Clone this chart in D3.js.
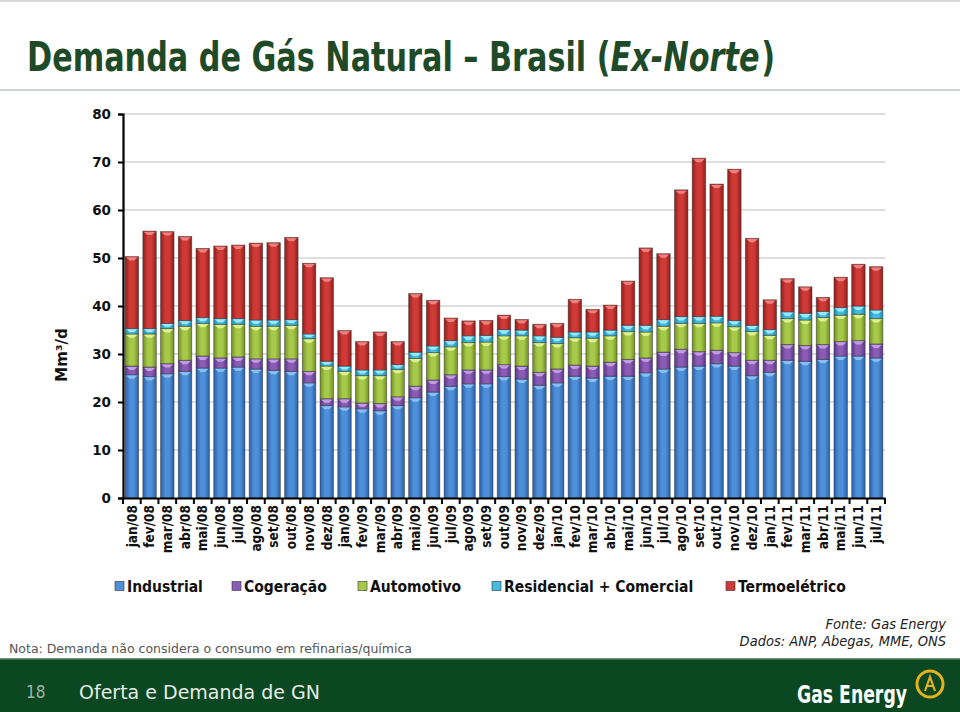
<!DOCTYPE html>
<html><head><meta charset="utf-8">
<script src="https://cdn.jsdelivr.net/npm/d3@7/dist/d3.min.js"></script>
<style>body{margin:0;background:#fff;} svg{display:block;}</style>
</head><body><svg id="c" width="960" height="712"></svg>
<script>
const months = ["jan/08","fev/08","mar/08","abr/08","mai/08","jun/08","jul/08","ago/08","set/08","out/08","nov/08","dez/08",
"jan/09","fev/09","mar/09","abr/09","mai/09","jun/09","jul/09","ago/09","set/09","out/09","nov/09","dez/09",
"jan/10","fev/10","mar/10","abr/10","mai/10","jun/10","jul/10","ago/10","set/10","out/10","nov/10","dez/10",
"jan/11","fev/11","mar/11","abr/11","mai/11","jun/11","jul/11"];
const industrial   = [25.7,25.3,25.9,26.4,27.1,27.1,27.3,26.9,26.6,26.4,24.0,19.3, 19.0,18.6,18.2,19.3,20.9,22.1,23.3,23.8,23.8,25.3,24.8,23.5, 24.0,25.4,25.0,25.4,25.4,26.1,26.9,27.3,27.5,28.0,27.5,25.5, 26.2,28.7,28.5,28.9,29.6,29.6,29.2];
const cogeracao    = [1.8,2.0,2.1,2.3,2.5,2.1,2.1,2.1,2.4,2.6,2.4,1.4, 1.7,1.2,1.5,1.8,2.4,2.5,2.4,2.9,2.9,2.5,2.7,2.7, 2.9,2.3,2.5,2.9,3.5,3.1,3.5,3.7,3.0,2.8,2.8,3.2, 2.5,3.3,3.3,3.1,3.0,3.2,2.9];
const automotivo   = [6.7,6.9,7.3,7.1,6.8,7.0,6.8,6.8,6.8,7.0,6.8,6.8, 5.7,5.7,5.8,5.7,5.8,5.7,5.8,5.7,5.8,6.0,6.3,6.2, 5.3,5.7,5.8,5.5,5.8,5.4,5.4,5.4,5.9,5.7,5.4,6.0, 5.2,5.4,5.3,5.6,5.5,5.5,5.3];
const residencial  = [1.1,1.1,1.1,1.2,1.2,1.2,1.2,1.3,1.3,1.2,1.0,1.0, 1.1,1.2,1.2,1.0,1.3,1.4,1.3,1.4,1.4,1.3,1.2,1.4, 1.3,1.2,1.3,1.2,1.3,1.4,1.4,1.4,1.4,1.4,1.3,1.3, 1.2,1.4,1.4,1.3,1.6,1.7,1.8];
const termoeletrico= [15.0,20.3,19.1,17.5,14.4,15.1,15.3,16.0,16.1,17.1,14.7,17.4, 7.4,5.9,7.9,4.8,12.2,9.5,4.7,3.1,3.1,3.0,2.2,2.4, 2.9,6.8,4.7,5.2,9.2,16.1,13.7,26.4,33.0,27.5,31.5,18.1, 6.2,6.9,5.5,2.9,6.3,8.7,9.0];
const seriesNames  = ["Industrial","Cogeração","Automotivo","Residencial + Comercial","Termoelétrico"];
const seriesKeys   = ["ind","cog","aut","res","ter"];
const yTicks       = [0,10,20,30,40,50,60,70,80];

const colors = {
  ind:{mid:"#4d8fd8", edge:"#2a5fa6", hl:"#8fc3f4"},
  cog:{mid:"#8a5cb5", edge:"#5b3685", hl:"#c7a3e6"},
  aut:{mid:"#a7c94a", edge:"#6f8f23", hl:"#e3f59a"},
  res:{mid:"#45bde0", edge:"#1f8aab", hl:"#a6ecff"},
  ter:{mid:"#cf3a36", edge:"#8e1e1c", hl:"#f08a86"}
};

const data = months.map((m,i)=>({m, ind:industrial[i], cog:cogeracao[i], aut:automotivo[i], res:residencial[i], ter:termoeletrico[i]}));
const stacked = d3.stack().keys(seriesKeys)(data);

const svg = d3.select("#c");
const defs = svg.append("defs");
seriesKeys.forEach(k=>{
  const g = defs.append("linearGradient").attr("id","g_"+k).attr("x1","0").attr("x2","1").attr("y1","0").attr("y2","0");
  g.append("stop").attr("offset","0%").attr("stop-color",colors[k].edge);
  g.append("stop").attr("offset","35%").attr("stop-color",colors[k].mid);
  g.append("stop").attr("offset","65%").attr("stop-color",colors[k].mid);
  g.append("stop").attr("offset","100%").attr("stop-color",colors[k].edge);
});

// slide chrome
svg.append("rect").attr("x",0).attr("y",0).attr("width",960).attr("height",712).attr("fill","#fff");
svg.append("rect").attr("x",0).attr("y",0).attr("width",960).attr("height",2).attr("fill","#d8d8d8");
svg.append("rect").attr("x",0).attr("y",89).attr("width",960).attr("height",2).attr("fill","#cfd3cf");

// title as separate pieces, scaled to the reference width
const tg = svg.append("g");
const titleParts = [["Demanda de Gás Natural – Brasil (","normal"],["Ex-Norte","italic"],[")","normal"]];
let cx = 0;
titleParts.forEach(([t,st])=>{
  const el = tg.append("text").attr("x",cx).attr("y",0)
    .attr("font-family","'DejaVu Sans Condensed','DejaVu Sans',sans-serif").attr("font-weight","bold")
    .attr("font-style",st).attr("font-size",40).attr("fill","#1f4a27").text(t);
  cx += el.node().getComputedTextLength() + (st==="italic"?2:0);
});
tg.attr("transform",`translate(27,71) scale(${748/cx},1)`);

// scales
const x = d3.scaleBand().domain(months).range([123,885]).paddingInner(0.24).paddingOuter(0.12);
const y = d3.scaleLinear().domain([0,80]).range([498,114]);

// gridlines
svg.append("g").selectAll("line").data(yTicks.filter(t=>t>0)).join("line")
  .attr("x1",123).attr("x2",885).attr("y1",d=>y(d)).attr("y2",d=>y(d))
  .attr("stroke","#bdbdbd").attr("stroke-width",1.2);

// bars
const layers = svg.append("g").selectAll("g").data(stacked).join("g");
layers.selectAll("rect").data(d=>d.map(v=>({v,key:d.key}))).join("rect")
  .attr("x",d=>x(d.v.data.m)).attr("width",x.bandwidth())
  .attr("y",d=>y(d.v[1])).attr("height",d=>y(d.v[0])-y(d.v[1]))
  .attr("fill",d=>"url(#g_"+d.key+")")
  .attr("stroke","#2b2b2b").attr("stroke-opacity",0.55).attr("stroke-width",0.8);
layers.selectAll("path").data(d=>d.map(v=>({v,key:d.key}))).join("path")
  .attr("d",d=>{
    const x0 = x(d.v.data.m)+1, w = x.bandwidth()-2, yt = y(d.v[1])+0.8;
    const h = Math.min(3.2, (y(d.v[0])-y(d.v[1]))*0.5);
    return `M${x0},${yt}L${x0+w},${yt}L${x0+w*0.7},${yt+h}L${x0+w*0.3},${yt+h}Z`;
  })
  .attr("fill",d=>colors[d.key].hl).attr("opacity",0.9);

// y axis
const yAxis = svg.append("g").attr("transform","translate(123,0)")
  .call(d3.axisLeft(y).tickValues(yTicks).tickSize(5).tickPadding(7));
yAxis.select(".domain").attr("stroke","#000").attr("stroke-width",2.2);
yAxis.selectAll(".tick line").attr("stroke","#000").attr("stroke-width",2);
yAxis.selectAll(".tick text").attr("font-family","'DejaVu Sans',sans-serif").attr("font-weight","bold")
  .attr("font-size",13.5).attr("fill","#111");

// x axis
const xAxis = svg.append("g").attr("transform","translate(0,498)")
  .call(d3.axisBottom(x).tickSize(0).tickPadding(0));
xAxis.select(".domain").attr("stroke","#000").attr("stroke-width",2.2);
xAxis.selectAll(".tick text")
  .attr("font-family","'DejaVu Sans Condensed','DejaVu Sans',sans-serif").attr("font-weight","bold")
  .attr("font-size",13.5).attr("fill","#111")
  .attr("text-anchor","end").attr("dy","0.35em").attr("dx",0)
  .attr("transform","translate(0,7) rotate(-90)").attr("x",0).attr("y",0);
const bounds = d3.range(months.length+1).map(i=>x.range()[0] + x.step()*x.paddingOuter() - x.step()*x.paddingInner()/2 + i*x.step());
svg.append("g").selectAll("line").data(bounds).join("line")
  .attr("x1",d=>d).attr("x2",d=>d).attr("y1",498).attr("y2",504)
  .attr("stroke","#000").attr("stroke-width",2);

// y title
svg.append("text").attr("transform","translate(67,355) rotate(-90)").attr("text-anchor","middle")
  .attr("font-family","'DejaVu Sans',sans-serif").attr("font-weight","bold").attr("font-size",15).attr("fill","#111")
  .text("Mm³/d");

// legend
const legX = [115,232,358,492,726];
const leg = svg.append("g").selectAll("g").data(seriesKeys).join("g")
  .attr("transform",(d,i)=>`translate(${legX[i]},586)`);
leg.append("rect").attr("x",0).attr("y",-4.5).attr("width",9).attr("height",9)
  .attr("fill",d=>colors[d].mid).attr("stroke","#333").attr("stroke-width",0.6);
leg.append("text").attr("x",12).attr("y",0).attr("dy","0.36em")
  .attr("font-family","'DejaVu Sans Condensed','DejaVu Sans',sans-serif").attr("font-weight","bold")
  .attr("font-size",15.5).attr("fill","#111").text((d,i)=>seriesNames[i]);

// footnotes
svg.append("text").attr("x",9).attr("y",653)
  .attr("font-family","'DejaVu Sans Condensed','DejaVu Sans',sans-serif").attr("font-size",13).attr("fill","#555")
  .attr("textLength",403).attr("lengthAdjust","spacingAndGlyphs")
  .text("Nota: Demanda não considera o consumo em refinarias/química");
svg.append("text").attr("x",946).attr("y",629).attr("text-anchor","end")
  .attr("font-family","'DejaVu Sans Condensed','DejaVu Sans',sans-serif").attr("font-style","italic").attr("font-size",14.5).attr("fill","#222")
  .text("Fonte: Gas Energy");
svg.append("text").attr("x",946).attr("y",646).attr("text-anchor","end")
  .attr("font-family","'DejaVu Sans Condensed','DejaVu Sans',sans-serif").attr("font-style","italic").attr("font-size",14.5).attr("fill","#222")
  .text("Dados: ANP, Abegas, MME, ONS");

// bottom band
svg.append("rect").attr("x",0).attr("y",658).attr("width",960).attr("height",54).attr("fill","#0b4720");
svg.append("rect").attr("x",0).attr("y",658).attr("width",960).attr("height",1.5).attr("fill","#6f8f72");
svg.append("text").attr("x",26).attr("y",698)
  .attr("font-family","'DejaVu Sans Condensed','DejaVu Sans',sans-serif").attr("font-size",17).attr("fill","#9fb5a3").text("18");
svg.append("text").attr("x",79).attr("y",699)
  .attr("font-family","'DejaVu Sans Condensed','DejaVu Sans',sans-serif").attr("font-size",20).attr("fill","#e6ece6")
  .attr("textLength",241).attr("lengthAdjust","spacingAndGlyphs")
  .text("Oferta e Demanda de GN");
svg.append("text").attr("x",797).attr("y",703)
  .attr("font-family","'DejaVu Sans Condensed','DejaVu Sans',sans-serif").attr("font-weight","bold").attr("font-size",24).attr("fill","#fff")
  .attr("textLength",110).attr("lengthAdjust","spacingAndGlyphs")
  .text("Gas Energy");
const logo = svg.append("g").attr("transform","translate(930,684)");
logo.append("circle").attr("r",13).attr("fill","none").attr("stroke","#e3b21c").attr("stroke-width",3);
logo.append("path").attr("d","M-5,7L0,-7L5,7M-3,2L3,2").attr("fill","none").attr("stroke","#e3b21c").attr("stroke-width",2.2);
</script></body></html>
